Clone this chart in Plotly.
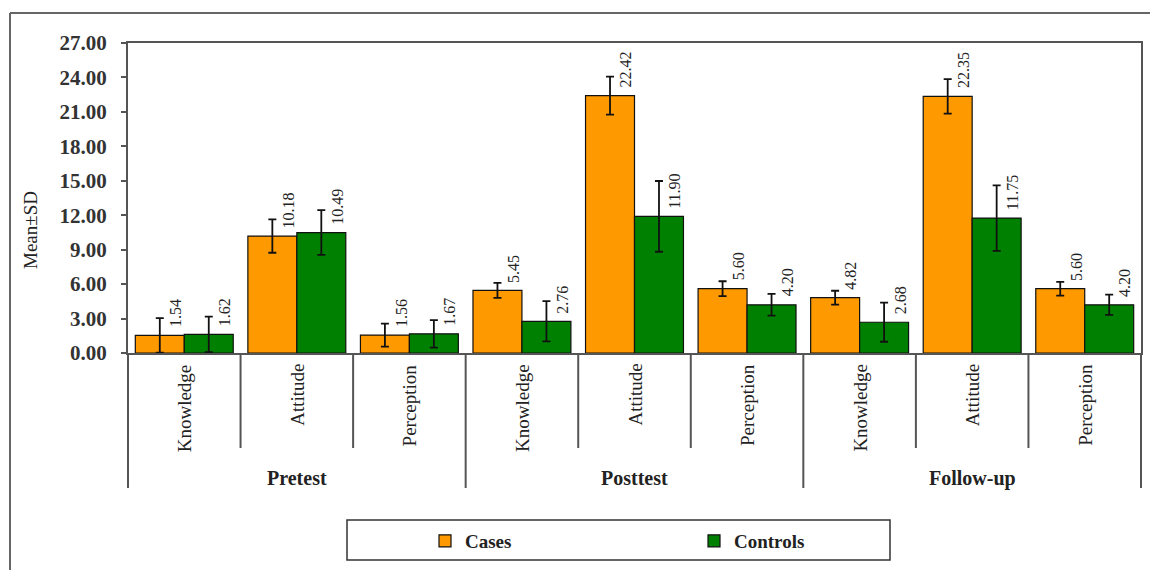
import plotly.graph_objects as go

# ---- data -------------------------------------------------------------
phases = ["Pretest", "Posttest", "Follow-up"]
measures = ["Knowledge", "Attitude", "Perception"]

cases_mean = [1.54, 10.18, 1.56, 5.45, 22.42, 5.60, 4.82, 22.35, 5.60]
controls_mean = [1.62, 10.49, 1.67, 2.76, 11.90, 4.20, 2.68, 11.75, 4.20]
cases_sd = [1.50, 1.45, 1.00, 0.65, 1.65, 0.65, 0.60, 1.50, 0.60]
controls_sd = [1.55, 1.95, 1.20, 1.75, 3.08, 0.95, 1.70, 2.85, 0.88]

y_ticks = [0, 3, 6, 9, 12, 15, 18, 21, 24, 27]
series_names = ["Cases", "Controls"]

# ---- geometry & style -------------------------------------------------
W, H = 1150, 570
ML, MR, MT, MB = 128, 9, 43, 217
PW, PH = W - ML - MR, H - MT - MB
BARGAP = 0.13

ORANGE = "#FF9900"
GREEN = "#008000"
INK = "#222222"
FRAME = "#555555"
SERIF = "Liberation Serif, Times New Roman, serif"


def px_x(px):
    """pixel column -> paper x"""
    return (px - ML) / PW


def px_y(py):
    """pixel row -> paper y"""
    return (H - MB - py) / PH


keys = [f"{p} | {m}" for p in phases for m in measures]
n_cat = len(keys)
cat_w = PW / n_cat
bar_w = cat_w * (1 - BARGAP) / 2

fig = go.Figure()
for name, means, sds, color in [
    (series_names[0], cases_mean, cases_sd, ORANGE),
    (series_names[1], controls_mean, controls_sd, GREEN),
]:
    fig.add_trace(go.Bar(
        name=name, x=keys, y=means,
        marker=dict(color=color, line=dict(color="#111111", width=1.2)),
        error_y=dict(type="data", array=sds, color="#111111",
                     thickness=1.8, width=4),
    ))

annotations = []

# value labels, rotated, just right of each error bar
for means, side in [(cases_mean, -1), (controls_mean, 1)]:
    for k, v in zip(keys, means):
        annotations.append(dict(
            x=k, y=v, xref="x", yref="y", text=f"{v:.2f}",
            textangle=-90, showarrow=False, xanchor="center", yanchor="bottom",
            xshift=side * bar_w / 2 + 16, yshift=6,
            font=dict(family=SERIF, size=16, color=INK),
        ))

# inner category labels (rotated)
for k in keys:
    m = k.split(" | ")[1]
    annotations.append(dict(
        x=k, y=px_y(362), xref="x", yref="paper", text=m,
        textangle=-90, showarrow=False, xanchor="center", yanchor="top",
        font=dict(family=SERIF, size=19, color=INK),
    ))

# outer group labels
n_sub = len(measures)
for g, p in enumerate(phases):
    annotations.append(dict(
        x=(g * n_sub + n_sub / 2) / n_cat, y=px_y(478), xref="paper", yref="paper",
        text=f"<b>{p}</b>", showarrow=False, xanchor="center", yanchor="middle",
        font=dict(family=SERIF, size=20, color=INK),
    ))

# y-axis title
annotations.append(dict(
    x=px_x(30), y=px_y(230), xref="paper", yref="paper", text="Mean±SD",
    textangle=-90, showarrow=False, xanchor="center", yanchor="middle",
    font=dict(family=SERIF, size=19, color=INK),
))

shapes = []
# dividers below the category axis
for b in range(n_cat + 1):
    bottom = 488 if b % n_sub == 0 else 448
    shapes.append(dict(
        type="line", xref="paper", yref="paper",
        x0=b / n_cat, x1=b / n_cat, y0=0, y1=px_y(bottom),
        line=dict(color=FRAME, width=2),
    ))

# legend frame
shapes.append(dict(
    type="rect", xref="paper", yref="paper",
    x0=px_x(347), x1=px_x(890), y0=px_y(520), y1=px_y(560),
    line=dict(color="#333333", width=1.5), fillcolor="rgba(0,0,0,0)",
))

# outer chart frame (top and left edges)
shapes.append(dict(
    type="line", xref="paper", yref="paper",
    x0=px_x(10), x1=px_x(W + 5), y0=px_y(13), y1=px_y(13),
    line=dict(color="#666666", width=2),
))
shapes.append(dict(
    type="line", xref="paper", yref="paper",
    x0=px_x(10), x1=px_x(10), y0=px_y(13), y1=px_y(H + 5),
    line=dict(color="#666666", width=2),
))

fig.update_layout(
    width=W, height=H,
    margin=dict(l=ML, r=MR, t=MT, b=MB, autoexpand=False),
    paper_bgcolor="white", plot_bgcolor="white",
    barmode="group", bargap=BARGAP, bargroupgap=0,
    font=dict(family=SERIF, color=INK),
    showlegend=True,
    legend=dict(
        orientation="h", x=px_x(425), xanchor="left",
        y=px_y(541), yanchor="middle",
        entrywidth=224, entrywidthmode="pixels",
        font=dict(family=SERIF, size=19, color=INK, weight="bold"),
        bgcolor="rgba(0,0,0,0)", borderwidth=0,
        traceorder="normal",
    ),
    annotations=annotations,
    shapes=shapes,
)

fig.update_xaxes(
    type="category", showticklabels=False, ticks="",
    showline=True, mirror=True, linecolor=FRAME, linewidth=2,
    showgrid=False, zeroline=False,
)
fig.update_yaxes(
    range=[0, 27], tickvals=y_ticks, tickformat=".2f",
    ticks="outside", ticklen=5, tickcolor=FRAME, tickwidth=1.5,
    ticklabelstandoff=10,
    tickfont=dict(family=SERIF, size=21, color="#333333", weight="bold"),
    showline=True, mirror=True, linecolor=FRAME, linewidth=2,
    showgrid=False, zeroline=False,
)

fig.write_html("out.html")
